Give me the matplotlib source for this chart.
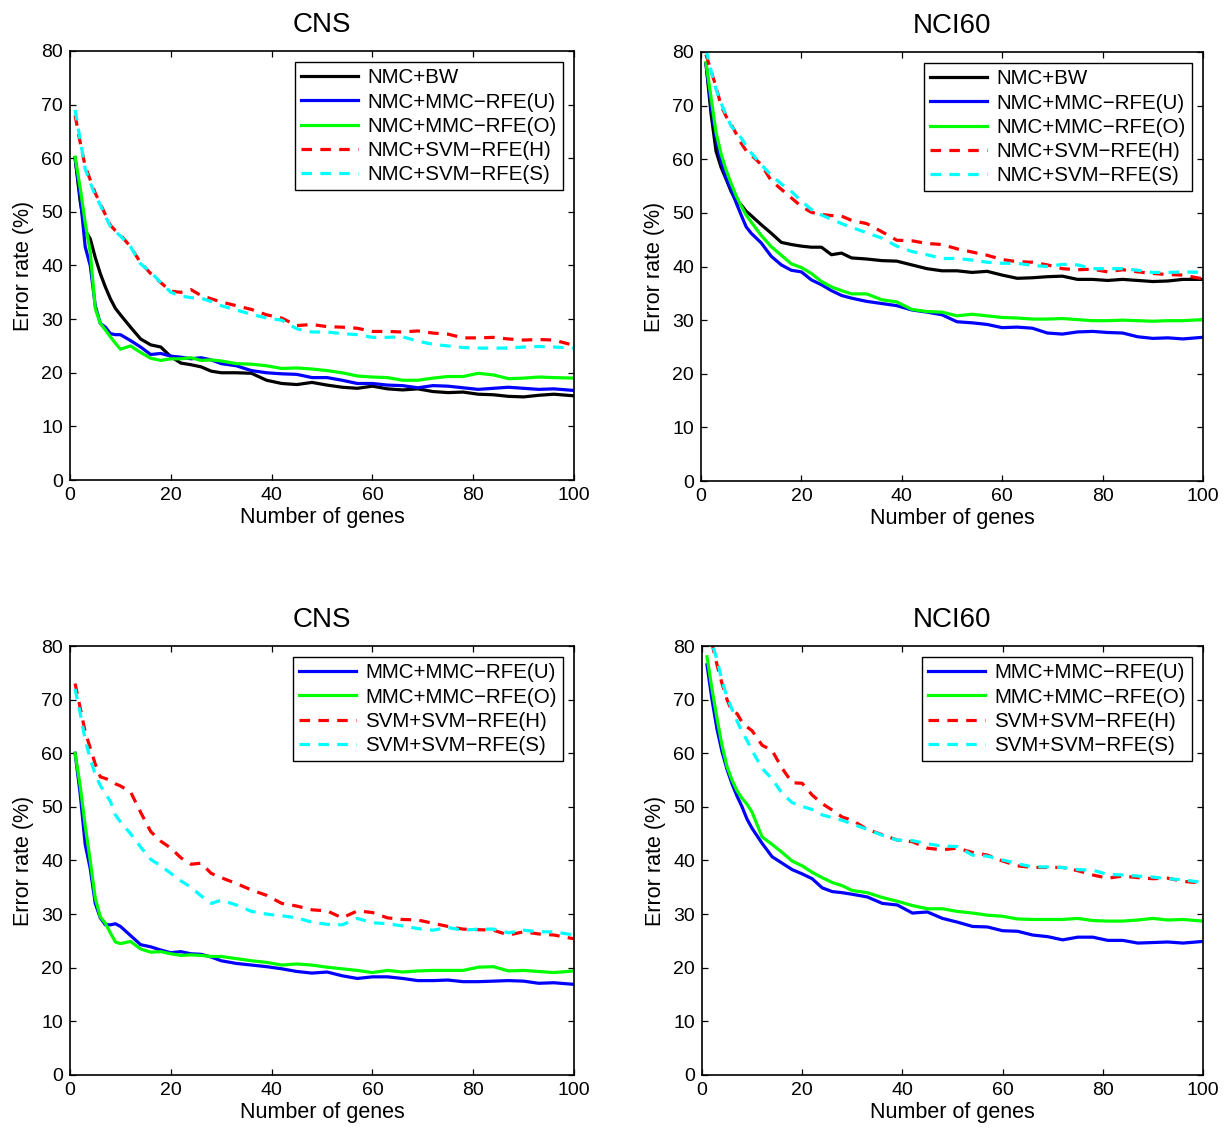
import matplotlib
matplotlib.use('Agg')
from matplotlib import pyplot as plt

plt.rcParams['font.family'] = ['Liberation Sans', 'DejaVu Sans']

genes = [1, 2, 3, 4, 5, 6, 7, 8, 9, 10, 12, 14, 16, 18, 20, 22, 24, 26, 28,
         30, 33, 36, 39, 42, 45, 48, 51, 54, 57, 60, 63, 66, 69, 72, 75, 78,
         81, 84, 87, 90, 93, 96, 100]

# top left: CNS, NMC classifier
cns_nmc_bw = [60, 52, 46.5, 45, 41.5, 38.5, 36, 33.8, 32, 30.8, 28.5, 26.3,
              25.2, 24.8, 23, 21.8, 21.5, 21.1, 20.3, 20, 20, 19.9, 18.6, 18,
              17.8, 18.2, 17.7, 17.3, 17.1, 17.5, 17, 16.8, 17, 16.5, 16.3,
              16.4, 16, 15.9, 15.6, 15.5, 15.8, 16, 15.7]
cns_nmc_mmc_u = [60, 53, 43.5, 40, 32.5, 29.2, 28.5, 27.3, 27.1, 27.1, 26,
                 24.8, 23.4, 23.6, 23.1, 22.9, 22.6, 22.8, 22.4, 21.7, 21.3,
                 20.4, 20, 19.8, 19.7, 19.1, 19.1, 18.6, 18, 18, 17.7, 17.6,
                 17.2, 17.6, 17.5, 17.2, 16.9, 17.1, 17.3, 17.1, 16.9, 17,
                 16.7]
cns_nmc_mmc_o = [60.2, 54.5, 48, 42.5, 32, 29.2, 28, 26.7, 25.5, 24.4, 25,
                 23.8, 22.7, 22.3, 22.6, 22.6, 22.8, 22.3, 22.4, 22.2, 21.7,
                 21.6, 21.3, 20.8, 20.9, 20.7, 20.4, 20, 19.4, 19.2, 19.1,
                 18.6, 18.6, 19, 19.3, 19.3, 19.9, 19.6, 18.9, 19, 19.2, 19.1,
                 19]
cns_nmc_svm_h = [68, 63, 58.5, 56, 53.5, 51.5, 49.5, 47.5, 46.5, 45.7, 43.5,
                 40.5, 38.5, 36.8, 35.2, 35, 35.5, 34.4, 33.8, 33.2, 32.5,
                 31.8, 30.8, 30.2, 28.8, 29, 28.6, 28.5, 28.3, 27.7, 27.7,
                 27.6, 27.8, 27.4, 27.2, 26.5, 26.5, 26.6, 26.3, 26.1, 26.2,
                 26.1, 25.1]
cns_nmc_svm_s = [69, 63.5, 58, 55.5, 53, 51.3, 49.2, 47.3, 46.3, 45.5, 43.5,
                 40.3, 38.8, 36.8, 35, 34.3, 34, 33.9, 33.3, 32.5, 31.7, 30.9,
                 30.2, 29.8, 28.2, 27.6, 27.6, 27.3, 27.1, 26.6, 26.6, 26.7,
                 25.9, 25.3, 25, 24.7, 24.6, 24.6, 24.6, 24.8, 24.9, 24.8,
                 24.6]

# top right: NCI60, NMC classifier
nci_nmc_bw = [77.8, 68.5, 61.5, 58.5, 56.3, 54, 52.2, 51.5, 50.3, 49.5, 47.8,
              46.2, 44.5, 44.1, 43.8, 43.6, 43.6, 42.2, 42.5, 41.6, 41.4,
              41.1, 41, 40.3, 39.6, 39.2, 39.2, 38.9, 39.1, 38.4, 37.8, 37.9,
              38.1, 38.2, 37.6, 37.6, 37.4, 37.6, 37.4, 37.2, 37.3, 37.6,
              37.6]
nci_nmc_mmc_u = [77.8, 70, 64, 59.5, 56.5, 54.4, 51.9, 49.6, 47.4, 46.2,
                 44.4, 41.9, 40.3, 39.3, 39, 37.5, 36.6, 35.5, 34.6, 34.1,
                 33.5, 33.1, 32.7, 31.9, 31.5, 31, 29.7, 29.5, 29.2, 28.6,
                 28.7, 28.5, 27.6, 27.4, 27.8, 27.9, 27.7, 27.6, 26.9, 26.6,
                 26.7, 26.5, 26.8]
nci_nmc_mmc_o = [78, 71.5, 65, 61, 58, 55.5, 53.2, 51.3, 49.6, 48.3, 45.8,
                 43.7, 42.1, 40.5, 39.8, 38.7, 37.2, 36.2, 35.5, 34.9, 34.9,
                 33.8, 33.4, 32, 31.6, 31.5, 30.8, 31.1, 30.8, 30.5, 30.4,
                 30.2, 30.2, 30.3, 30.1, 29.9, 29.9, 30, 29.9, 29.8, 29.9,
                 29.9, 30.1]
nci_nmc_svm_h = [79.5, 76.5, 73.5, 70, 68, 66.5, 64.8, 63, 61.6, 60.8, 59,
                 56, 54.4, 52.8, 51.2, 50.1, 49.7, 49.5, 49.4, 48.6, 48, 46.5,
                 44.9, 44.8, 44.3, 44.1, 43.3, 42.7, 42.1, 41.3, 40.9, 40.8,
                 40.3, 39.6, 39.4, 39.5, 39, 39.4, 39, 38.7, 38.5, 38.4, 37.7]
nci_nmc_svm_s = [80.5, 76.5, 73, 70.5, 68.2, 66.2, 65.1, 64, 62.5, 61.2, 59,
                 57, 55.4, 54, 52.2, 50.6, 49.6, 48.8, 48, 47.3, 46.3, 45.3,
                 43.8, 42.8, 42.2, 41.5, 41.5, 41.2, 40.8, 40.6, 40.6, 40.2,
                 40, 40.4, 40.3, 39.6, 39.6, 39.6, 39.3, 38.9, 38.9, 39, 38.9]

# bottom left: CNS, matching classifier
cns_mmc_u = [60, 52.5, 43, 38.5, 32, 29.3, 28, 28, 28.2, 27.7, 26, 24.3,
             23.9, 23.3, 22.8, 23, 22.6, 22.5, 22, 21.3, 20.8, 20.5, 20.2,
             19.8, 19.3, 19, 19.2, 18.5, 18, 18.3, 18.3, 18, 17.6, 17.6, 17.7,
             17.4, 17.4, 17.5, 17.6, 17.5, 17.1, 17.2, 16.9]
cns_mmc_o = [60, 54, 46.5, 40, 33, 29.5, 28.3, 26.5, 24.8, 24.5, 24.9, 23.5,
             22.9, 23, 22.6, 22.3, 22.4, 22.3, 22.1, 22.1, 21.7, 21.3, 21,
             20.5, 20.7, 20.5, 20.1, 19.8, 19.5, 19.1, 19.5, 19.2, 19.4, 19.5,
             19.5, 19.5, 20.1, 20.2, 19.4, 19.5, 19.3, 19.1, 19.4]
cns_svm_h = [73, 68.5, 64, 61, 58, 55.6, 55.3, 54.9, 54.3, 53.9, 52.8, 49,
             45.4, 43.6, 42.3, 40.5, 39.3, 39.5, 37.6, 36.8, 35.7, 34.5, 33.5,
             32, 31.5, 30.8, 30.6, 29.3, 30.6, 30.3, 29.3, 29, 28.9, 28.3,
             27.7, 27.2, 27.1, 27, 26.1, 26.7, 26.3, 26.1, 25.4]
cns_svm_s = [72, 67.5, 62.5, 59, 56, 54, 52.5, 51, 48.5, 47.2, 45, 42.5, 40.2,
             39, 37.6, 36.2, 35, 33.4, 32, 32.6, 31.7, 30.5, 30, 29.7, 29.3,
             28.5, 28.1, 28, 29.2, 28.4, 28.2, 27.8, 27.3, 27, 27.5, 27, 27.2,
             27.2, 26.5, 27, 26.7, 26.7, 26.1]

# bottom right: NCI60, matching classifier
nci_mmc_u = [76.5, 70, 64.5, 60.3, 57, 54.3, 52, 50, 47.7, 46, 43.2, 40.7,
             39.5, 38.3, 37.5, 36.6, 34.9, 34.2, 34, 33.7, 33.2, 32, 31.7,
             30.2, 30.4, 29.2, 28.5, 27.7, 27.6, 26.9, 26.8, 26.1, 25.8, 25.2,
             25.7, 25.7, 25.1, 25.1, 24.6, 24.7, 24.8, 24.6, 24.9]
nci_mmc_o = [78, 72, 66.5, 61.5, 57.5, 55, 53, 51.6, 50.5, 49, 44.4, 43,
             41.5, 39.9, 39, 37.8, 36.8, 35.9, 35.3, 34.4, 34, 33.1, 32.4,
             31.6, 31, 31, 30.5, 30.2, 29.8, 29.6, 29.1, 29, 29, 29, 29.2,
             28.8, 28.7, 28.7, 28.9, 29.2, 28.9, 29, 28.7]
nci_svm_h = [84, 80.5, 76.5, 73, 70, 67.8, 67.4, 65.8, 64.9, 64.2, 61.5, 60.5,
             57.2, 54.5, 54.4, 52.2, 50.6, 49.4, 48.1, 47.5, 45.8, 44.8, 43.8,
             43.5, 42.3, 42, 42.3, 41.5, 41, 39.9, 39, 38.7, 38.7, 38.7, 38.1,
             37.3, 36.7, 37.1, 36.8, 36.6, 36.7, 36.1, 35.8]
nci_svm_s = [83, 80.5, 77.5, 73.5, 70.5, 68.2, 66, 64, 62.4, 60.5, 57.2, 55.2,
             52.5, 50.8, 50.1, 49.5, 48.5, 48, 47.5, 46.8, 45.8, 44.7, 43.8,
             43.7, 43.1, 42.7, 42.6, 41, 40.8, 40.1, 39.4, 38.8, 38.8, 38.7,
             38.3, 38.2, 37.4, 37.3, 37.1, 36.9, 36.6, 36.4, 35.9]

top_labels = ['NMC+BW', 'NMC+MMC\u2212RFE(U)', 'NMC+MMC\u2212RFE(O)',
              'NMC+SVM\u2212RFE(H)', 'NMC+SVM\u2212RFE(S)']
bottom_labels = ['MMC+MMC\u2212RFE(U)', 'MMC+MMC\u2212RFE(O)',
                 'SVM+SVM\u2212RFE(H)', 'SVM+SVM\u2212RFE(S)']

DASH = (0, (3.3, 2.6))
top_styles = [('black', '-'), ('blue', '-'), ('#00ff00', '-'),
              ('red', DASH), ('cyan', DASH)]
bottom_styles = top_styles[1:]


def draw_panel(ax, title, curves, labels, styles):
    for values, label, (color, ls) in zip(curves, labels, styles):
        ax.plot(genes, values, color=color, linestyle=ls, linewidth=2.3,
                label=label)

    ax.set_xlim(0, 100)
    ax.set_ylim(0, 80)
    ax.set_xticks(range(0, 101, 20))
    ax.set_yticks(range(0, 81, 10))
    ax.tick_params(direction='in', top=True, right=True, length=4,
                   width=0.9, labelsize=14, pad=5)
    for spine in ax.spines.values():
        spine.set_linewidth(1.2)

    ax.set_title(title, fontsize=20, pad=14)
    ax.set_xlabel('Number of genes', fontsize=15.5, labelpad=2)
    ax.set_ylabel('Error rate (%)', fontsize=15.5, labelpad=5)

    legend = ax.legend(loc='upper right', fontsize=14.8, fancybox=False,
                       edgecolor='black', framealpha=1, handlelength=2.75,
                       handletextpad=0.45, labelspacing=0.25, borderpad=0.3,
                       borderaxespad=0.55)
    legend.get_frame().set_linewidth(1.0)


fig = plt.figure(figsize=(12.27, 11.30), dpi=100)
ax1 = fig.add_axes([0.0571, 0.5752, 0.4107, 0.3797])
ax2 = fig.add_axes([0.5713, 0.5743, 0.4091, 0.3797])
ax3 = fig.add_axes([0.0571, 0.0487, 0.4107, 0.3796])
ax4 = fig.add_axes([0.5721, 0.0487, 0.4083, 0.3796])

draw_panel(ax1, 'CNS',
           [cns_nmc_bw, cns_nmc_mmc_u, cns_nmc_mmc_o, cns_nmc_svm_h,
            cns_nmc_svm_s], top_labels, top_styles)
draw_panel(ax2, 'NCI60',
           [nci_nmc_bw, nci_nmc_mmc_u, nci_nmc_mmc_o, nci_nmc_svm_h,
            nci_nmc_svm_s], top_labels, top_styles)
draw_panel(ax3, 'CNS', [cns_mmc_u, cns_mmc_o, cns_svm_h, cns_svm_s],
           bottom_labels, bottom_styles)
draw_panel(ax4, 'NCI60', [nci_mmc_u, nci_mmc_o, nci_svm_h, nci_svm_s],
           bottom_labels, bottom_styles)

fig.savefig('out.png', dpi=100)
